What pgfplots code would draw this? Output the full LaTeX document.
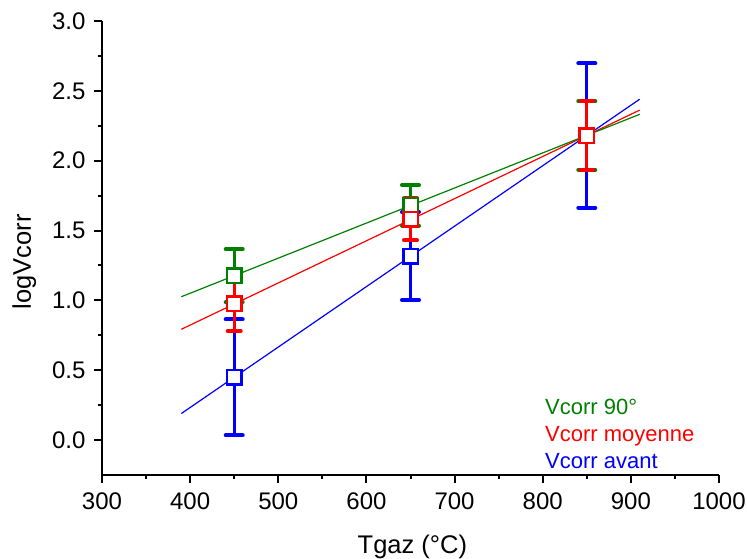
\documentclass[border=0pt]{standalone}
\usepackage{pgfplots}
\pgfplotsset{compat=1.18}
\usepackage{fontspec}
\setmainfont{Liberation Sans}
\definecolor{ogreen}{RGB}{0,128,0}
\definecolor{ored}{RGB}{255,0,0}
\definecolor{oblue}{RGB}{0,0,255}
\begin{document}
\begin{tikzpicture}
\begin{axis}[
  scale only axis,
  width=617bp, height=454bp,
  xmin=300, xmax=1000, ymin=-0.25, ymax=3.0,
  axis x line*=bottom, axis y line*=left,
  axis line style={line width=2bp, -},
  xtick={300,400,...,1000}, minor x tick num=1,
  ytick={0,0.5,...,3.0}, minor y tick num=1,
  tick align=outside,
  major tick length=8bp, minor tick length=4bp,
  every tick/.style={black, line width=2bp},
  /pgf/number format/assume math mode=true,
  /pgf/number format/1000 sep={},
  tick label style={font=\fontsize{24bp}{28bp}\selectfont},
  xticklabel style={yshift=-6bp},
  yticklabel style={xshift=-5bp, /pgf/number format/.cd, fixed, fixed zerofill, precision=1},
  label style={font=\fontsize{25.5bp}{30bp}\selectfont},
  xlabel={Tgaz (°C)},
  ylabel={logVcorr},
  xlabel style={at={(axis description cs:0.503,-0.1718)}, anchor=base},
  ylabel style={at={(axis description cs:-0.1151,0.47)}, anchor=base, rotate=0},
  clip=false,
  legend style={draw=none, fill=none, at={(axis description cs:0.718,0.1696)}, anchor=north west,
    font=\fontsize{22bp}{26bp}\selectfont, inner sep=0pt, row sep=6bp, column sep=0pt,
    nodes={inner sep=0pt, text height=16bp, text depth=5bp}},
  legend cell align=left,
]
\addlegendimage{empty legend}
\addlegendentry{\textcolor{ogreen}{Vcorr 90°}}
\addlegendimage{empty legend}
\addlegendentry{\textcolor{ored}{Vcorr moyenne}}
\addlegendimage{empty legend}
\addlegendentry{\textcolor{oblue}{Vcorr avant}}

% Vcorr avant
\addplot[forget plot, only marks, oblue, mark=square*, mark size=7.25bp,
  mark options={line width=2.5bp, fill=white, draw=oblue},
  error bars/.cd, y dir=both, y explicit,
  error bar style={line width=3.3bp, oblue},
  error mark options={rotate=90, mark size=8.5bp, line width=4bp, line cap=round, oblue}]
coordinates {(450,0.449)+-(0,0.415) (650,1.317)+-(0,0.315) (850,2.18)+-(0,0.517)};
% Vcorr 90
\addplot[forget plot, only marks, ogreen, mark=square*, mark size=7.25bp,
  mark options={line width=2.5bp, fill=white, draw=ogreen},
  error bars/.cd, y dir=both, y explicit,
  error bar style={line width=3.3bp, ogreen},
  error mark options={rotate=90, mark size=8.5bp, line width=4bp, line cap=round, ogreen}]
coordinates {(450,1.176)+-(0,0.19) (650,1.68)+-(0,0.145) (850,2.18)+-(0,0.245)};
% Vcorr moyenne
\addplot[forget plot, only marks, ored, mark=square*, mark size=7.25bp,
  mark options={line width=2.5bp, fill=white, draw=ored},
  error bars/.cd, y dir=both, y explicit,
  error bar style={line width=3bp, ored},
  error mark options={rotate=90, mark size=6.5bp, line width=4bp, line cap=round, ored}]
coordinates {(450,0.977)+-(0,0.197) (650,1.58)+-(0,0.15) (850,2.18)+-(0,0.245)};

% fit lines
\addplot[forget plot, oblue, line width=1.2bp] coordinates {(390,0.190) (910,2.440)};
\addplot[forget plot, ored, line width=1.2bp] coordinates {(390,0.793) (910,2.362)};
\addplot[forget plot, ogreen, line width=1.2bp] coordinates {(390,1.026) (910,2.332)};
\end{axis}
\pgfresetboundingbox
\path ([shift={(-102bp,-83bp)}]current axis.south west) rectangle ([shift={(28bp,21bp)}]current axis.north east);
\end{tikzpicture}
\end{document}
